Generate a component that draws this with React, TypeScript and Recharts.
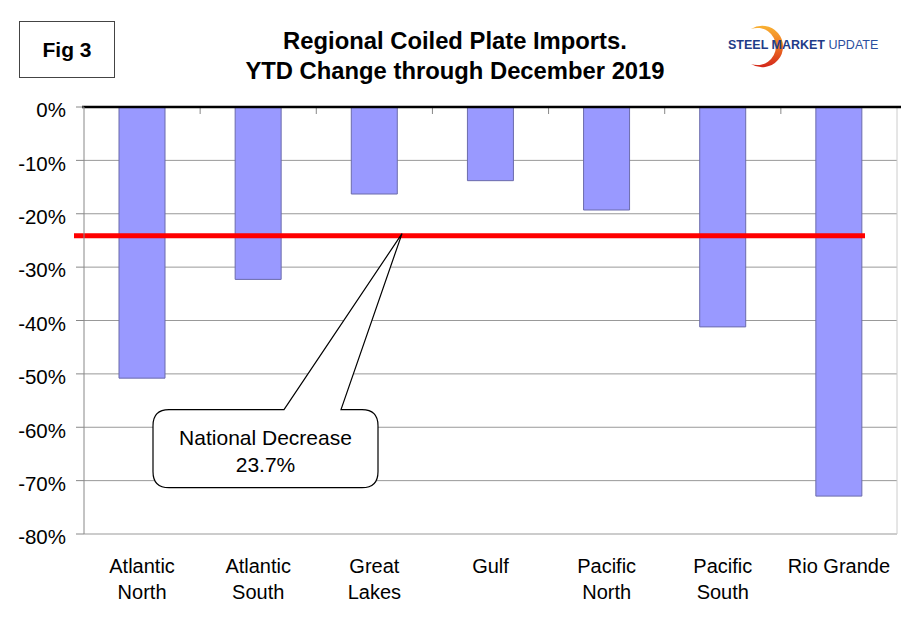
import { BarChart, Bar, XAxis, YAxis, CartesianGrid, ReferenceLine } from 'recharts';

const regions = ['Atlantic\nNorth', 'Atlantic\nSouth', 'Great\nLakes', 'Gulf', 'Pacific\nNorth', 'Pacific\nSouth', 'Rio Grande'];
const ytdChange = [-50.8, -32.3, -16.3, -13.8, -19.3, -41.2, -72.9];
const yTicks = [0, -10, -20, -30, -40, -50, -60, -70, -80];
const nationalLevel = -24.1;
const nationalDecrease = 23.7;

const data = regions.map((region, i) => ({ region, change: ytdChange[i] }));

const FONT = '"Liberation Sans", Arial, sans-serif';

function RegionTick({ x, y, payload }: any) {
  const lines = String(payload.value).split('\n');
  return (
    <text x={x} y={y} textAnchor="middle" fontSize={20} fontFamily={FONT} fill="#000">
      {lines.map((l, i) => (
        <tspan key={i} x={x} dy={i === 0 ? 31 : 26}>{l}</tspan>
      ))}
    </text>
  );
}

// black zero line with small ticks between the categories
function ZeroLine({ x1, x2, y1 }: any) {
  const step = (x2 - x1) / regions.length;
  return (
    <g>
      {regions.slice(1).map((_, i) => (
        <line key={i} x1={x1 + (i + 1) * step} x2={x1 + (i + 1) * step} y1={y1} y2={y1 + 7} stroke="#888" />
      ))}
      <line x1={x1 - 2} x2={x2 + 4} y1={y1} y2={y1} stroke="#000" strokeWidth={2.5} />
    </g>
  );
}

// red national line plus the rounded callout pointing at it
function NationalLine({ x1, x2, y1 }: any) {
  const left = x1 + 69, right = x1 + 294, top = y1 + 174, bottom = y1 + 252, r = 16;
  const tipX = x1 + 318, baseL = x1 + 200, baseR = x1 + 257;
  const path = `M${left + r},${top} L${baseL},${top} L${tipX},${y1 - 2} L${baseR},${top} L${right - r},${top} Q${right},${top} ${right},${top + r} L${right},${bottom - r} Q${right},${bottom} ${right - r},${bottom} L${left + r},${bottom} Q${left},${bottom} ${left},${bottom - r} L${left},${top + r} Q${left},${top} ${left + r},${top} Z`;
  const cx = (left + right) / 2;
  return (
    <g>
      <line x1={x1 - 10} x2={x2 - 32} y1={y1} y2={y1} stroke="#ff0000" strokeWidth={5} />
      <path d={path} fill="#fff" stroke="#000" strokeWidth={1.2} />
      <text x={cx} y={top + 35} textAnchor="middle" fontSize={21} fontFamily={FONT}>National Decrease</text>
      <text x={cx} y={top + 62} textAnchor="middle" fontSize={21} fontFamily={FONT}>{nationalDecrease}%</text>
    </g>
  );
}

function Header() {
  return (
    <svg width={910} height={100} style={{ position: 'absolute', left: 0, top: 0, pointerEvents: 'none' }} fontFamily={FONT}>
      <defs>
        <linearGradient id="arc" x1="0" y1="0" x2="0" y2="1">
          <stop offset="0%" stopColor="#f9b233" />
          <stop offset="45%" stopColor="#f07a22" />
          <stop offset="100%" stopColor="#d3261b" />
        </linearGradient>
      </defs>
      <rect x={19.5} y={21.5} width={95} height={56} fill="#fff" stroke="#444" />
      <text x={67} y={57} textAnchor="middle" fontSize={21} fontWeight="bold">Fig 3</text>
      <text x={455} y={49} textAnchor="middle" fontSize={23.8} fontWeight="bold">Regional Coiled Plate Imports.</text>
      <text x={455} y={79} textAnchor="middle" fontSize={23.8} fontWeight="bold">YTD Change through December 2019</text>
      <path d="M751,29 A20.8,20.8 0 1 1 751,64 A18.6,18.6 0 1 0 751,29 Z" fill="url(#arc)" />
      <text x={728} y={49} fontSize={12.5} fill="#1f3c88">
        <tspan fontWeight="bold">STEEL MARKET </tspan>
        <tspan fill="#2b4f9e">UPDATE</tspan>
      </text>
    </svg>
  );
}

export default function App() {
  return (
    <div style={{ position: 'absolute', left: 0, top: 0, width: 910, height: 622, background: '#fff' }}>
      <BarChart width={910} height={622} data={data} margin={{ top: 107, right: 13, bottom: 0, left: 0 }}>
        <CartesianGrid vertical={false} stroke="#999" />
        <CartesianGrid horizontal={false} stroke="#ccc" verticalCoordinatesGenerator={({ offset }: any) => [offset.left + offset.width]} />
        <XAxis dataKey="region" height={88} interval={0} tickLine={false} axisLine={false} tick={<RegionTick />} />
        <YAxis
          domain={[-80, 0]}
          ticks={yTicks}
          width={84}
          tickSize={8}
          tickMargin={10}
          stroke="#888"
          tick={{ fontSize: 20.5, fill: '#000', fontFamily: FONT, dy: 3 }}
          tickFormatter={(v: number) => `${v}%`}
        />
        <Bar dataKey="change" fill="#9999ff" stroke="#6b6bab" barSize={46} isAnimationActive={false} />
        <ReferenceLine y={0} shape={ZeroLine} />
        <ReferenceLine y={nationalLevel} shape={NationalLine} />
      </BarChart>
      <Header />
    </div>
  );
}
